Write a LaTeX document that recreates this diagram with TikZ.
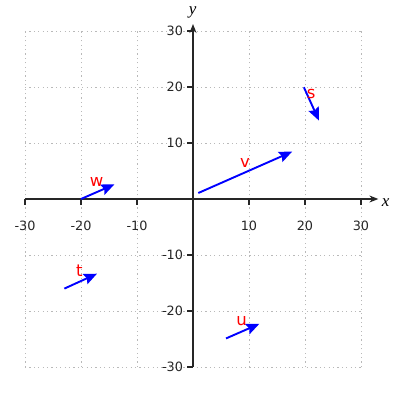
\documentclass[tikz,border=0pt]{standalone}
\usepackage{fontspec}
\setmainfont{DejaVu Sans}
\newfontfamily\axfont{Liberation Serif}
\usetikzlibrary{arrows.meta}
\begin{document}
\begin{tikzpicture}[x=5.6bp,y=5.6bp,
  gridline/.style={draw={rgb,255:red,185;green,185;blue,185}, line width=0.9bp, dash pattern=on 1.2bp off 3.2bp},
  axisline/.style={draw=black!85, line width=1.2bp, -{Stealth[length=9bp,width=7bp]}},
  tickline/.style={draw=black!85, line width=1.2bp},
  vec/.style={draw=blue, line width=1.9bp, -{Stealth[length=13bp,width=11bp,inset=2bp]}},
  vlab/.style={text=red, font=\fontsize{16.5bp}{19bp}\selectfont, anchor=base, inner sep=0},
  xtick/.style={text=black!85, font=\fontsize{12.8bp}{15bp}\selectfont, anchor=north, inner sep=0},
  ytick/.style={text=black!85, font=\fontsize{12.8bp}{15bp}\selectfont, anchor=east, inner sep=0},
  axlab/.style={font=\axfont\itshape\fontsize{17bp}{19bp}\selectfont, inner sep=0}]
\useasboundingbox (-34.464,-35.893) rectangle (36.964,35.536);
% grid
\foreach \g in {-30,-20,-10,10,20,30}{
  \draw[gridline] (\g,-30) -- (\g,30);
  \draw[gridline] (-30,\g) -- (30,\g);
}
% axes
\coordinate (xs) at (-30,0);
\coordinate (xe) at (33.1,0);
\coordinate (ys) at (0,-30);
\coordinate (ye) at (0,31.25);
\draw[axisline] (xs) -- (xe);
\draw[axisline] (ys) -- (ye);
\node[axlab] (xlab) at (34.4,-0.6) {x};
\node[axlab] (ylab) at (-0.05,33.3) {y};
% ticks and labels
\foreach \g in {-30,-20,-10,10,20,30}{
  \draw[tickline] (\g,0) -- (\g,-1);
  \draw[tickline] (0,\g) -- (-1,\g);
  \node[xtick] (xt\g) at (\g,-3.9) {\g};
  \node[ytick] (yt\g) at (-1.75,\g) {\g};
}
% vectors
\coordinate (v0) at (0.95,1.07);  \coordinate (v1) at (17.7,8.45);
\coordinate (s0) at (19.8,19.95); \coordinate (s1) at (22.5,14.0);
\coordinate (w0) at (-20,0);      \coordinate (w1) at (-14.05,2.6);
\coordinate (t0) at (-22.97,-16); \coordinate (t1) at (-17.14,-13.34);
\coordinate (u0) at (5.9,-24.9);  \coordinate (u1) at (11.84,-22.3);
\draw[vec] (v0) -- (v1);
\draw[vec] (s0) -- (s1);
\draw[vec] (w0) -- (w1);
\draw[vec] (t0) -- (t1);
\draw[vec] (u0) -- (u1);
\node[vlab] (vl) at (9.3,5.6) {v};
\node[vlab] (sl) at (21.1,17.98) {s};
\node[vlab] (wl) at (-17.2,2.2) {w};
\node[vlab] (tl) at (-20.3,-13.9) {t};
\node[vlab] (ul) at (8.7,-22.6) {u};
\end{tikzpicture}
\end{document}
